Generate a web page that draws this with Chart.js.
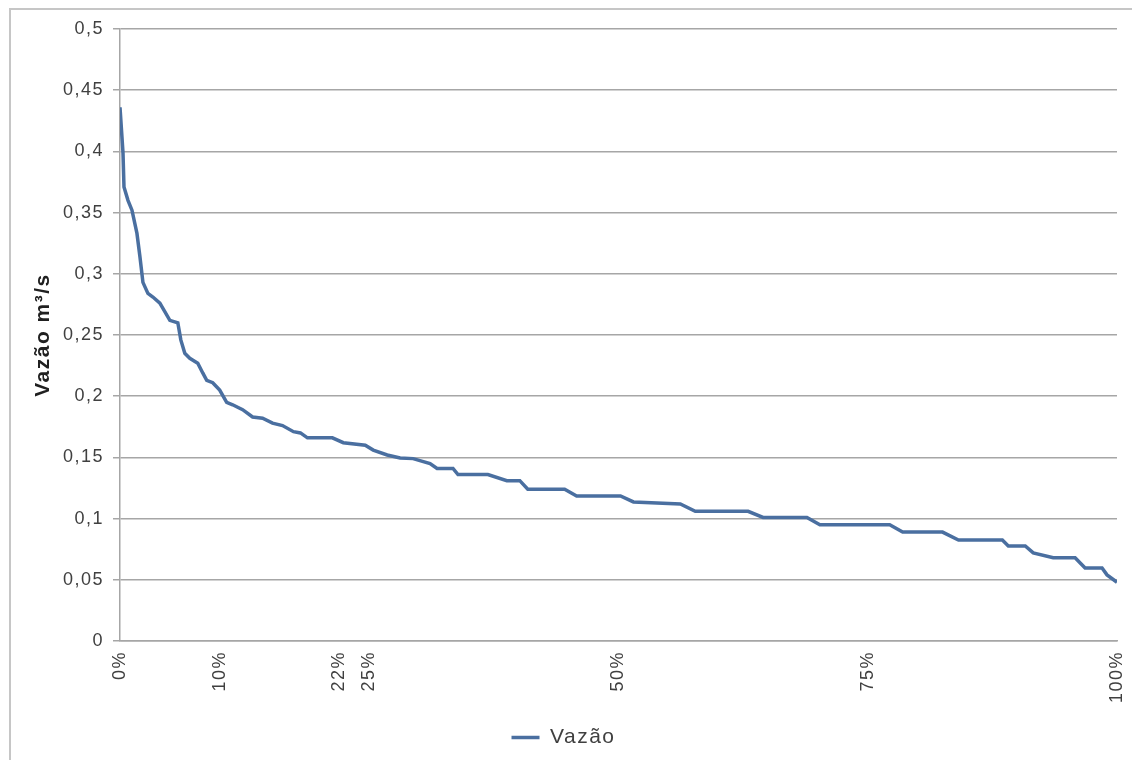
<!DOCTYPE html>
<html>
<head>
<meta charset="utf-8">
<script src="https://cdn.jsdelivr.net/npm/chart.js@4/dist/chart.umd.min.js"></script>
<style>
  html, body { margin: 0; padding: 0; background: #ffffff; }
  #wrap { width: 1132px; height: 760px; position: relative; }
</style>
</head>
<body>
<div id="wrap"><canvas id="c" width="1132" height="760"></canvas></div>
<script>
// Curva de permanência: percentual do tempo (x) e vazão em m³/s (y)
const pct = [
  0, 0.3, 0.4, 0.8, 1.2, 1.7, 2.0, 2.3, 2.8, 3.3, 4.0, 5.0, 5.8, 6.1, 6.5, 7.0,
  7.8, 8.3, 8.7, 9.3, 10.0, 10.7, 11.3, 12.3, 13.3, 14.3, 15.3, 16.3, 17.4, 18.1,
  18.8, 21.3, 22.4, 24.6, 25.4, 26.8, 28.1, 29.4, 31.1, 31.8, 33.4, 33.9, 36.9,
  38.8, 40.1, 40.9, 44.6, 45.8, 50.2, 51.5, 56.2, 57.7, 63.0, 64.5, 68.9, 70.2,
  77.2, 78.5, 82.5, 84.1, 88.5, 89.1, 90.8, 91.6, 93.6, 95.8, 96.8, 98.5, 99.0, 100
];
const vazao = [
  0.436, 0.399, 0.371, 0.360, 0.352, 0.333, 0.314, 0.293, 0.284, 0.281, 0.276,
  0.262, 0.260, 0.246, 0.235, 0.231, 0.227, 0.219, 0.213, 0.211, 0.205, 0.195,
  0.193, 0.189, 0.183, 0.182, 0.178, 0.176, 0.171, 0.170, 0.166, 0.166, 0.162,
  0.160, 0.156, 0.152, 0.1495, 0.149, 0.145, 0.141, 0.141, 0.136, 0.136, 0.131,
  0.131, 0.124, 0.124, 0.1185, 0.1185, 0.1136, 0.112, 0.106, 0.106, 0.101, 0.101,
  0.095, 0.095, 0.089, 0.089, 0.0825, 0.0825, 0.0776, 0.0776, 0.072, 0.068, 0.068,
  0.0596, 0.0596, 0.054, 0.048
];
const xTicks = [0, 10, 22, 25, 50, 75, 100];
const yTicks = [0, 0.05, 0.1, 0.15, 0.2, 0.25, 0.3, 0.35, 0.4, 0.45, 0.5];
const seriesName = 'Vazão';
const yTitle = 'Vazão m³/s';

const LINE_BLUE = '#4a6fa0';
const GRID = '#a6a6a6';
const TEXT = '#404040';
const FONT = '"Liberation Sans", Arial, sans-serif';

const points = pct.map((p, i) => ({ x: p, y: vazao[i] }));

const fmtDec = v => String(Number(v.toFixed(2))).replace('.', ',');

// Moldura externa e espaçamento das letras
const frame = {
  id: 'frame',
  beforeLayout(chart) { chart.ctx.letterSpacing = '1.5px'; },
  beforeDraw(chart) {
    const ctx = chart.ctx;
    ctx.letterSpacing = '1.5px';
    ctx.save();
    ctx.strokeStyle = '#c6c6c6';
    ctx.lineWidth = 2;
    ctx.beginPath();
    ctx.moveTo(10, 770);
    ctx.lineTo(10, 9);
    ctx.lineTo(1140, 9);
    ctx.stroke();
    ctx.restore();
  }
};

new Chart(document.getElementById('c'), {
  type: 'line',
  data: {
    datasets: [{
      label: seriesName,
      data: points,
      borderColor: LINE_BLUE,
      backgroundColor: LINE_BLUE,
      borderWidth: 3.5,
      pointRadius: 0,
      pointHoverRadius: 0,
      pointStyle: 'line',
      tension: 0,
      fill: false
    }]
  },
  options: {
    responsive: false,
    animation: false,
    events: [],
    layout: { padding: { left: 10, right: 15, top: 29, bottom: 2 } },
    plugins: {
      tooltip: { enabled: false },
      legend: {
        position: 'bottom',
        labels: {
          usePointStyle: true,
          pointStyleWidth: 28,
          boxHeight: 19,
          padding: 10,
          color: TEXT,
          font: { family: FONT, size: 21 }
        }
      }
    },
    scales: {
      x: {
        type: 'linear',
        min: 0,
        max: 100,
        afterBuildTicks: s => { s.ticks = xTicks.map(v => ({ value: v })); },
        afterFit: s => { s.height = 76; s.paddingLeft = 0; s.paddingRight = 0; },
        grid: { display: false, drawTicks: false },
        border: { display: true, color: GRID, width: 1.5 },
        ticks: {
          minRotation: 90,
          maxRotation: 90,
          autoSkip: false,
          padding: 10,
          color: TEXT,
          font: { family: FONT, size: 18 },
          callback: v => v + '%'
        }
      },
      y: {
        min: 0,
        max: 0.5,
        afterBuildTicks: s => { s.ticks = yTicks.map(v => ({ value: v })); },
        afterFit: s => { s.width = 110; s.paddingTop = 0; s.paddingBottom = 0; },
        grid: { color: GRID, lineWidth: 1.5, tickLength: 7, tickColor: GRID },
        border: { display: true, color: GRID, width: 1.5 },
        ticks: {
          padding: 9,
          color: TEXT,
          font: { family: FONT, size: 18 },
          callback: v => fmtDec(v)
        },
        title: {
          display: true,
          text: yTitle,
          color: '#202020',
          padding: { top: 21, bottom: 0 },
          font: { family: FONT, size: 21, weight: 'bold' }
        }
      }
    }
  },
  plugins: [frame]
});
</script>
</body>
</html>
